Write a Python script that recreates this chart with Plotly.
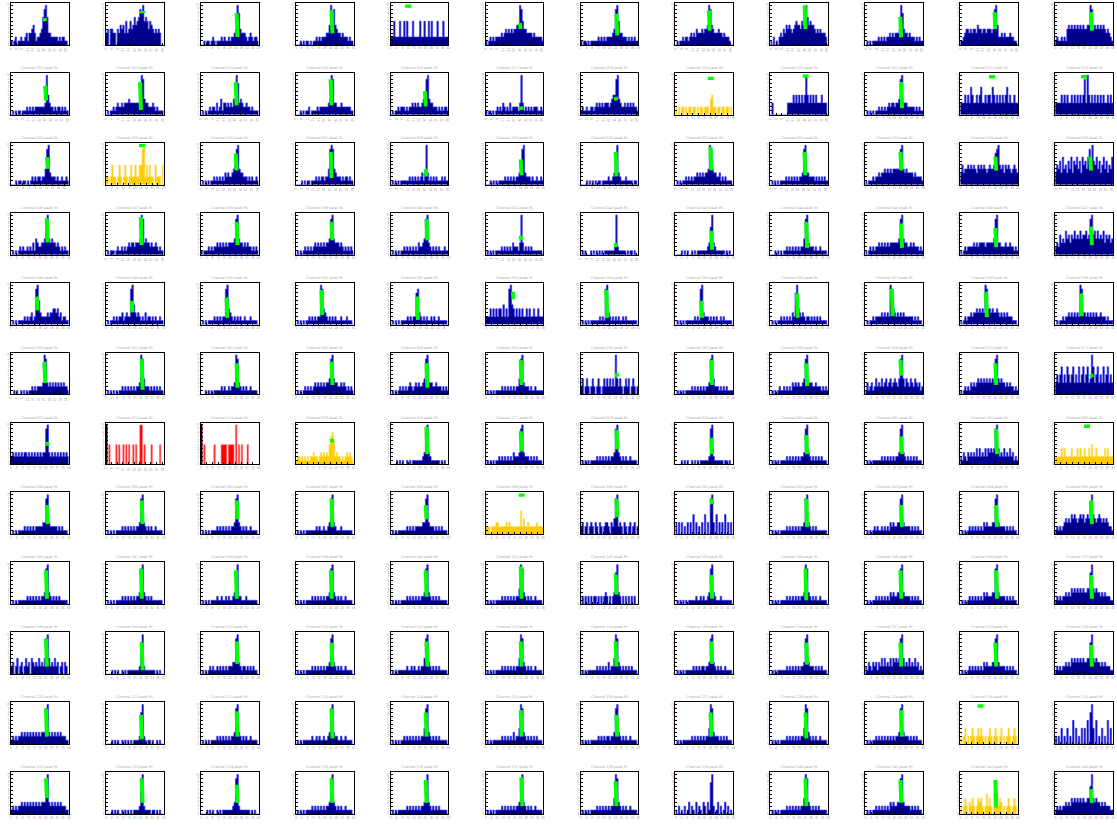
import plotly.graph_objects as go

W, H = 1117, 825

# histogram bin contents (one char per bin, 0-9, a=10), 12 rows x 12 columns
H1 = ["1012011211231334531223479a7332222212122110", "34044330435453634645756798a67646543434300",
      "0010110121011121211212234a84333212321221", "000101011010112121222335a795433232221211",
      "2262226226262226222262262262622262226222", "101212122223234343434455a9644333323222221",
      "1011010111112121212222349a63322212121211", "010112122123232433343445a95433343323222100",
      "1020102324354543456554659a756554343433320", "0101011112121212232323334a843323222121211",
      "1123443434435443443444349a522323222322110", "121121214545454545454455a945454545434321"]
H2 = ["0101011011121212122222223a532212122121211", "0101121232232333433333334a943322232121111",
      "0101012122131241332323244a834322322121111", "0001010112011112122222234a933222322222211",
      "01011212221212232323223459a43322212121221", "1011010121213212131222213a312121212221121",
      "12112112212323232333234559a43223232323221", "2020220202202202022022204522022022022020",
      "0300000000003333535353535a535353533353330", "0101010112121212323323349a33322222121211",
      "3335353753353573353553753535353573533533", "3333535353353535353593a53535353535335353"]
H3 = ["0001011011010121212212249a3222121121121", "22025220252025202522522559a2525220522205",
      "01010101121212121323223459a43322212121121", "0000101011011121212212249a943222121221211",
      "0101010111111212121212313a312121211121211", "00010101011112121212122359a3222121121121",
      "0000101010101101111211238a32111211110110", "010101121212122323232334a9433223121211110",
      "0101010111121212121212239a3322221212121211", "1011121223233434343444449a43433332322221",
      "35344545454354545434544589a5453545434543", "35463745364736574637564797a65746357463547"]
H4 = ["0101012121121213143223349a43433232121211", "0101110121121212323323334a934332322321211",
      "1011121212232323232333349a43323232212121", "0101012121212323232323349a43332321212121",
      "0101010112121212121322349a32121212111211", "0101010111121212121322213a312121211111110",
      "0101000101010101011111112a211111010110100", "0000101010010101111111237a32111111010100",
      "0001010101121212121212249a32221211211110", "1012121223232323233333349a43322323222121",
      "1012122223232333323333349a33222322322121", "2325343645354645464556459a56464546354534"]
H5 = ["010101111212123129a632222323344342312211", "01011212122312322 9a532321213122121211211".replace(" ", ""),
      "010101111212121229a432121212112111211110", "01010101121212122a9432121212111211121110",
      "010101011112121228932121211212112111110", "22242424244252429a5424242422424224224222",
      "010101011111121219a321212121121211111110", "010101011111121219a322212121211212111110",
      "010101121212121328a432321221212121211110", "01011212222323232a9432323232222221212110",
      "10121223233434343a9443433432323232221110", "01011212232323232a9332323232322322212111"]
H6 = ["00101001010101121212222 3a93232323232323221".replace(" ", ""), "010101010112121212121223a942221212121211",
      "000101010111112121121223a932121211211110", "0101012121212323232323349a43322323212121",
      "0101012121212321232322349a33322322212121", "0101010111121212121212249a32221211211111",
      "2402420242024202424242 42a424202424024202".replace(" ", ""), "0101010111121212121212239a42221212121111",
      "0101012112121213232322349a33322322212121", "1312312423242342342343249a42432432432312",
      "1012121323234343434343439a43433232322121", "3535735375357353735735734a73573537357353"]
H7 = ["2323232323323232323232339a32323232323232", "a05000050500505050050500aa050000500000500",
      "a05000000500005555055550a050500050000000", "1221212121223221232323257862322121232321",
      "0000101010010101111111239a32111111010100", "0101010112121212121322239a32221212121110",
      "0101010111121212121212239a32121211211110", "0000101010010101011111129a21111110110100",
      "0101010111121212121212239a32121212121110", "0101011111121212121212239a32121212121110",
      "2132132323242423242434349a42324232423121", "2222424222242224242242242522422222424222"]
H8 = ["0101011112121212122222339a32222212121110", "0101010111121212121212239a32121211211110",
      "0101010111121212121212239a32121211211110", "0101010111111121211211239a32111211111110",
      "0101011111121212122222339a32221212121110", "2220222332222232322222226242232222232222",
      "2302302320320320233203249a23203202302302", "3030302030305030203050309a30503030503030",
      "0101010111121212121212239a32121211111110", "0101012121121212132322339a32222121212110",
      "0101012121212121323222339a32222121212110", "1212123434354543454534548a54345434343221"]
H9 = ["0101011111121212121212239a32121212111110", "0101010111121212121212239a32121211111110",
      "0101010111121121121211238a22111211111110", "0101010111121212121212239a32121211211110",
      "0101010111121212121212239a32121212111110", "010101011112121212121224a932121211211110",
      "0202020202202020232020238a32020202020200", "0101010101111121121211239a32111211111110",
      "010101011112121212121223a932121211211110", "0101011212121212132322339a32222121212110",
      "0101012121212121323222339a32222121212110", "1212122323243434343433448a43433232322211"]
H10 = ["2302402302423043232423249a42324230230320", "0000101010010101111111128a21111111010100",
       "0101012121121212121222339a32122121212110", "0101010111121212121212239a32121211211110",
       "0101011111121121211212249a32121212111110", "010101011112121212121224a932121211211110",
       "010101111112121212131224a932121212121110", "0101010111112121212212239a32121211211110",
       "0101011111121212121212239a32221212121110", "2132132313242423242434349a42324232423121",
       "0101012121212121323222339a32222121212110", "1212122323243434343433448a43433232322211"]
H11 = ["1212122323232323232323339a32323232322211", "0000101010010101010111128a21011010010100",
       "0101010111121212121212239a32121211211110", "0101011111121121211211239a32211211211110",
       "0101010112121212121212249a32121212111110", "010101111112121212131224a932121212121110",
       "0101010111112121212212239a32121211211110", "010101111112121212121224a932221212121110",
       "010101011112121212121224a932121211211110", "0101011212121212121212239a32221212121110",
       "2024020242024242020242024202402024202420", "2020402040206040204040608a40602040206040"]
H12 = ["1212122323232323232323338a32323232322211", "0000101010010101010111129a21111011010100",
       "0000101010010101111111239a21111111010100", "0101010111121212121212239a32121211211110",
       "0101011111121212121212238a32121212111110", "0101010111121212121212239a32121211211110",
       "010101011112121212121224a932121211211110", "1020102013021030210320318a20130201302010",
       "010101011112121212121224a932121212111110", "0101011212121212132322339a32222121212110",
       "2024203242024342025242058524302024202420", "1212122323243434343433447a43433232322211"]
HIST = [H1, H2, H3, H4, H5, H6, H7, H8, H9, H10, H11, H12]

# fill colour per cell: b = blue, y = yellow, r = red
KIND = ["bbbbbbbbbbbb", "bbbbbbbybbbb", "bybbbbbbbbbb", "bbbbbbbbbbbb",
        "bbbbbbbbbbbb", "bbbbbbbbbbbb", "brrybbbbbbby", "bbbbbybbbbbb",
        "bbbbbbbbbbbb", "bbbbbbbbbbbb", "bbbbbbbbbbyb", "bbbbbbbbbbyb"]

# green fit segment per cell: (bin position, low, high)
G1 = [(24.5, 6.0, 6.8), (26, 8.0, 8.6), (25, 2.0, 8.0), (25, 2.9, 8.8), (12, 9.4, 10.2), (24.5, 4.0, 5.5),
      (25, 2.4, 7.9), (24.5, 3.6, 8.8), (24.5, 4.0, 10.0), (25, 1.9, 7.1), (24.5, 4.0, 8.3), (25, 3.6, 8.3)]
G2 = [(24.5, 3.6, 7.4), (24.5, 1.2, 8.3), (25, 2.4, 8.3), (25, 2.4, 9.0), (24.5, 2.1, 6.0), (25, 1.2, 2.1),
      (25, 3.6, 4.5), (24.5, 8.8, 9.6), (25, 9.4, 10.2), (25, 1.7, 8.3), (22, 9.2, 10.1), (20, 9.2, 10.1)]
G3 = [(24.5, 4.0, 7.0), (25, 9.5, 10.3), (25, 3.6, 7.9), (25, 1.7, 8.3), (25, 2.1, 4.0), (24.5, 2.4, 6.4),
      (24.5, 2.1, 8.3), (25, 3.6, 9.5), (25, 2.4, 8.3), (24.5, 3.6, 8.3), (24.5, 3.6, 7.1), (25, 3.6, 7.1)]
G4 = [(25, 3.1, 9.2), (25, 2.4, 9.5), (25, 2.4, 8.3), (25, 3.6, 8.3), (25, 3.6, 9.0), (25, 3.6, 4.8),
      (25, 1.9, 2.9), (25, 1.2, 6.0), (25, 1.7, 8.3), (25, 1.7, 7.9), (24.5, 1.9, 6.7), (25, 2.4, 7.1)]
G5 = [(18, 3.6, 7.1), (18, 3.1, 6.0), (18, 1.7, 6.9), (18, 2.4, 8.8), (18, 1.2, 7.1), (19, 6.4, 8.3),
      (18, 1.7, 8.8), (18, 1.7, 6.0), (18.5, 1.7, 7.9), (18.5, 2.1, 9.0), (18, 1.9, 8.3), (18, 2.1, 7.9)]
G6 = [(24.5, 2.9, 8.3), (25, 1.2, 9.0), (25, 1.7, 7.9), (25, 2.4, 8.3), (25, 1.7, 7.9), (24.5, 2.4, 8.8),
      (25, 4.5, 5.5), (25, 2.4, 8.8), (25, 2.1, 7.9), (24.5, 4.8, 8.8), (24.5, 2.4, 7.9), (25, 4.3, 5.2)]
G7 = [(25, 4.8, 5.7), None, None, (25, 5.6, 6.5), (25, 2.6, 9.5), (24.5, 3.3, 8.4),
      (25, 3.8, 8.8), (25, 2.6, 6.7), (25, 2.6, 7.4), (25, 2.6, 7.1), (25, 2.6, 9.0), (22, 9.2, 10.1)]
G8 = [(25, 2.6, 7.4), (25, 2.6, 8.6), (25, 3.8, 8.6), (25, 1.9, 9.0), (24.5, 3.8, 7.4), (25, 9.5, 10.3),
      (25, 4.3, 9.0), (25, 7.6, 9.0), (25, 1.9, 9.0), (25, 1.9, 7.4), (25, 1.9, 7.4), (25, 2.6, 8.6)]
G9 = [(24.5, 1.4, 8.6), (24.5, 1.4, 9.0), (24.5, 1.4, 8.6), (24.5, 1.4, 8.6), (24.5, 1.9, 8.6), (24.5, 1.4, 9.5),
      (24.5, 2.4, 7.6), (25, 1.4, 7.4), (24.5, 1.0, 9.0), (24.5, 1.4, 8.6), (25, 1.4, 8.6), (25, 1.4, 7.4)]
G10 = [(24.5, 1.9, 9.0), (25, 1.0, 8.0), (25, 2.6, 8.3), (25, 1.9, 8.0), (25, 1.9, 8.3), (24.5, 1.9, 8.3),
       (24.5, 1.9, 8.3), (25, 2.6, 8.3), (25, 2.4, 8.0), (24.5, 1.9, 8.0), (24.5, 1.9, 8.0), (25, 1.9, 7.4)]
G11 = [(24.5, 1.9, 9.0), (24.5, 1.2, 7.4), (25, 1.9, 8.3), (25, 1.4, 9.0), (24.5, 1.9, 8.0), (24.5, 1.9, 8.6),
       (25, 1.9, 7.4), (24.5, 1.9, 8.0), (24.5, 1.4, 8.0), (25, 1.9, 8.6), (14, 9.2, 10.1), None]
G12 = [(24.5, 4.0, 9.0), (25, 2.8, 9.0), (25, 2.8, 7.4), (25, 2.8, 9.0), (24.5, 2.8, 8.6), (25, 2.0, 9.3),
       (24.5, 2.0, 8.3), None, (24.5, 2.0, 9.0), (24.5, 2.8, 8.6), (24.5, 1.6, 8.6), (25, 2.8, 6.3)]
GREEN = [G1, G2, G3, G4, G5, G6, G7, G8, G9, G10, G11, G12]

FILL = {"b": "#00008C", "y": "#FFCC00", "r": "#FF0000"}
EDGE = {"b": "#3a3aff", "y": "#FFE066", "r": "#FF8080"}

fig = go.Figure()
layout = dict(width=W, height=H, margin=dict(l=0, r=0, t=0, b=0),
              paper_bgcolor="white", plot_bgcolor="white", showlegend=False)
annotations = []

for r in range(12):
    for c in range(12):
        idx = r * 12 + c + 1
        s = HIST[r][c]
        vals = [int(ch, 16) for ch in s]
        n = len(vals)
        kind = KIND[r][c]
        xa = "x" if idx == 1 else f"x{idx}"
        ya = "y" if idx == 1 else f"y{idx}"
        left = 8 + 95.36 * c
        top = 3 + 70.09 * r
        layout["xaxis" if idx == 1 else f"xaxis{idx}"] = dict(
            domain=[left / W, (left + 58) / W], anchor=ya, range=[0, n],
            showgrid=False, zeroline=False, showline=True, linecolor="black", linewidth=1,
            mirror=True, ticks="inside", ticklen=2, tickwidth=0.5, tickcolor="black",
            dtick=4, tick0=0, tickfont=dict(size=3, color="#999999"))
        layout["yaxis" if idx == 1 else f"yaxis{idx}"] = dict(
            domain=[1 - (top + 42) / H, 1 - top / H], anchor=xa, range=[0, 10.6],
            showgrid=False, zeroline=False, showline=True, linecolor="black", linewidth=1,
            mirror=True, ticks="inside", ticklen=2, tickwidth=0.5, tickcolor="black",
            dtick=1, tick0=0, tickfont=dict(size=3, color="#999999"))
        xs = list(range(n + 1))
        ys = vals + [vals[-1]]
        fig.add_trace(go.Scatter(x=xs, y=ys, mode="lines", line_shape="hv",
                                 line=dict(color=EDGE[kind], width=0.7),
                                 fill="tozeroy", fillcolor=FILL[kind],
                                 xaxis=xa, yaxis=ya, hoverinfo="skip"))
        if kind == "r":
            fig.add_trace(go.Scatter(x=[0, 1], y=[vals[0], vals[0]], mode="lines", line_shape="hv",
                                     line=dict(color="black", width=0.6), fill="tozeroy",
                                     fillcolor="black", xaxis=xa, yaxis=ya, hoverinfo="skip"))
        g = GREEN[r][c]
        if g is not None:
            gx, lo, hi = g
            if lo >= 8:
                fig.add_trace(go.Scatter(x=[gx, gx], y=[lo, hi], mode="lines",
                                         line=dict(color="#00FF00", width=6),
                                         xaxis=xa, yaxis=ya, hoverinfo="skip"))
            else:
                fig.add_trace(go.Scatter(x=[gx - 0.2, gx + 0.4], y=[hi, lo], mode="lines",
                                         line=dict(color="#00FF00", width=4),
                                         xaxis=xa, yaxis=ya, hoverinfo="skip"))
        if r > 0:
            annotations.append(dict(x=(left + 29) / W, y=1 - (top - 5) / H, xref="paper", yref="paper",
                                    xanchor="center", yanchor="middle",
                                    text=f"Channel {idx - 1:03d} peak fit",
                                    showarrow=False, font=dict(size=3.5, color="#aaaaaa",
                                                               family="DejaVu Sans")))

layout["annotations"] = annotations
fig.update_layout(**layout)
fig.write_html("out.html")
